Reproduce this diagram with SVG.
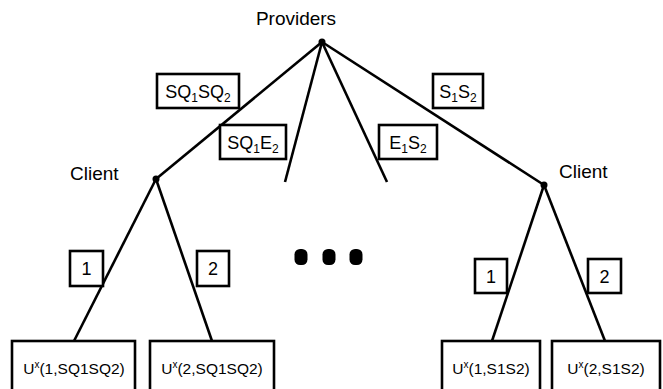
<svg xmlns="http://www.w3.org/2000/svg" width="663" height="389" viewBox="0 0 663 389">
  <style>
    .edge { stroke: #000; stroke-width: 2.6; fill: none; stroke-linecap: butt; }
    .box { fill: #fff; stroke: #000; stroke-width: 2.6; }
    .t { font-family: "Liberation Sans", Arial, sans-serif; font-size: 19px; fill: #000; }
    .lbl { font-family: "Liberation Sans", Arial, sans-serif; font-size: 18px; fill: #000; text-anchor: middle; }
    .out { font-family: "Liberation Sans", Arial, sans-serif; font-size: 15.5px; fill: #000; text-anchor: middle; }
    .sub { font-size: 12px; }
    .sup { font-size: 10px; }
    .dot { fill: #000; }
  </style>

  <!-- tree edges -->
  <g id="connectors">
    <line class="edge" x1="322" y1="42" x2="156" y2="179"/>
    <line class="edge" x1="322" y1="42" x2="285" y2="182"/>
    <line class="edge" x1="322" y1="42" x2="387" y2="182"/>
    <line class="edge" x1="322" y1="42" x2="544" y2="185"/>
    <line class="edge" x1="156" y1="179" x2="74" y2="341"/>
    <line class="edge" x1="156" y1="179" x2="212" y2="341"/>
    <line class="edge" x1="544" y1="185" x2="492" y2="341"/>
    <line class="edge" x1="544" y1="185" x2="605" y2="341"/>
  </g>

  <!-- decision nodes -->
  <g id="providers">
    <circle class="dot" cx="322" cy="42" r="3.5"/>
    <text class="t" x="296" y="25" text-anchor="middle">Providers</text>
  </g>
  <g id="client-left">
    <circle class="dot" cx="156" cy="179" r="3.5"/>
    <text class="t" x="70" y="180">Client</text>
  </g>
  <g id="client-right">
    <circle class="dot" cx="544" cy="185" r="3.5"/>
    <text class="t" x="559" y="178">Client</text>
  </g>

  <!-- provider action labels -->
  <g id="act-sq1sq2">
    <rect class="box" x="157" y="74" width="82" height="34"/>
    <text class="lbl" x="198" y="98">SQ<tspan class="sub" dy="4">1</tspan><tspan dy="-4">SQ</tspan><tspan class="sub" dy="4">2</tspan></text>
  </g>
  <g id="act-sq1e2">
    <rect class="box" x="220" y="125" width="66" height="34"/>
    <text class="lbl" x="253" y="149">SQ<tspan class="sub" dy="4">1</tspan><tspan dy="-4">E</tspan><tspan class="sub" dy="4">2</tspan></text>
  </g>
  <g id="act-e1s2">
    <rect class="box" x="379" y="125" width="58" height="34"/>
    <text class="lbl" x="408" y="149">E<tspan class="sub" dy="4">1</tspan><tspan dy="-4">S</tspan><tspan class="sub" dy="4">2</tspan></text>
  </g>
  <g id="act-s1s2">
    <rect class="box" x="433" y="74" width="50" height="34"/>
    <text class="lbl" x="458" y="98">S<tspan class="sub" dy="4">1</tspan><tspan dy="-4">S</tspan><tspan class="sub" dy="4">2</tspan></text>
  </g>

  <!-- client action labels -->
  <g id="act-left-1">
    <rect class="box" x="70" y="251" width="33" height="35"/>
    <text class="lbl" x="86.5" y="275">1</text>
  </g>
  <g id="act-left-2">
    <rect class="box" x="197" y="251" width="32" height="35"/>
    <text class="lbl" x="213" y="275">2</text>
  </g>
  <g id="act-right-1">
    <rect class="box" x="475" y="259" width="32" height="34"/>
    <text class="lbl" x="491" y="283">1</text>
  </g>
  <g id="act-right-2">
    <rect class="box" x="588" y="259" width="33" height="34"/>
    <text class="lbl" x="604.5" y="283">2</text>
  </g>

  <!-- omitted branches -->
  <g id="ellipsis">
    <rect class="dot" x="294.5" y="249" width="13" height="16" rx="5.5"/>
    <rect class="dot" x="322.5" y="249" width="13" height="16" rx="5.5"/>
    <rect class="dot" x="349.5" y="249" width="13" height="16" rx="5.5"/>
  </g>

  <!-- payoff leaves -->
  <g id="payoff-1-sq1sq2">
    <rect class="box" x="12" y="341" width="123" height="52"/>
    <text class="out" x="74" y="374">U<tspan class="sup" dy="-6">x</tspan><tspan dy="6">(1,SQ1SQ2)</tspan></text>
  </g>
  <g id="payoff-2-sq1sq2">
    <rect class="box" x="150" y="341" width="124" height="52"/>
    <text class="out" x="212" y="374">U<tspan class="sup" dy="-6">x</tspan><tspan dy="6">(2,SQ1SQ2)</tspan></text>
  </g>
  <g id="payoff-1-s1s2">
    <rect class="box" x="442" y="341" width="98" height="52"/>
    <text class="out" x="491" y="374">U<tspan class="sup" dy="-6">x</tspan><tspan dy="6">(1,S1S2)</tspan></text>
  </g>
  <g id="payoff-2-s1s2">
    <rect class="box" x="552" y="341" width="108" height="52"/>
    <text class="out" x="606" y="374">U<tspan class="sup" dy="-6">x</tspan><tspan dy="6">(2,S1S2)</tspan></text>
  </g>
</svg>
